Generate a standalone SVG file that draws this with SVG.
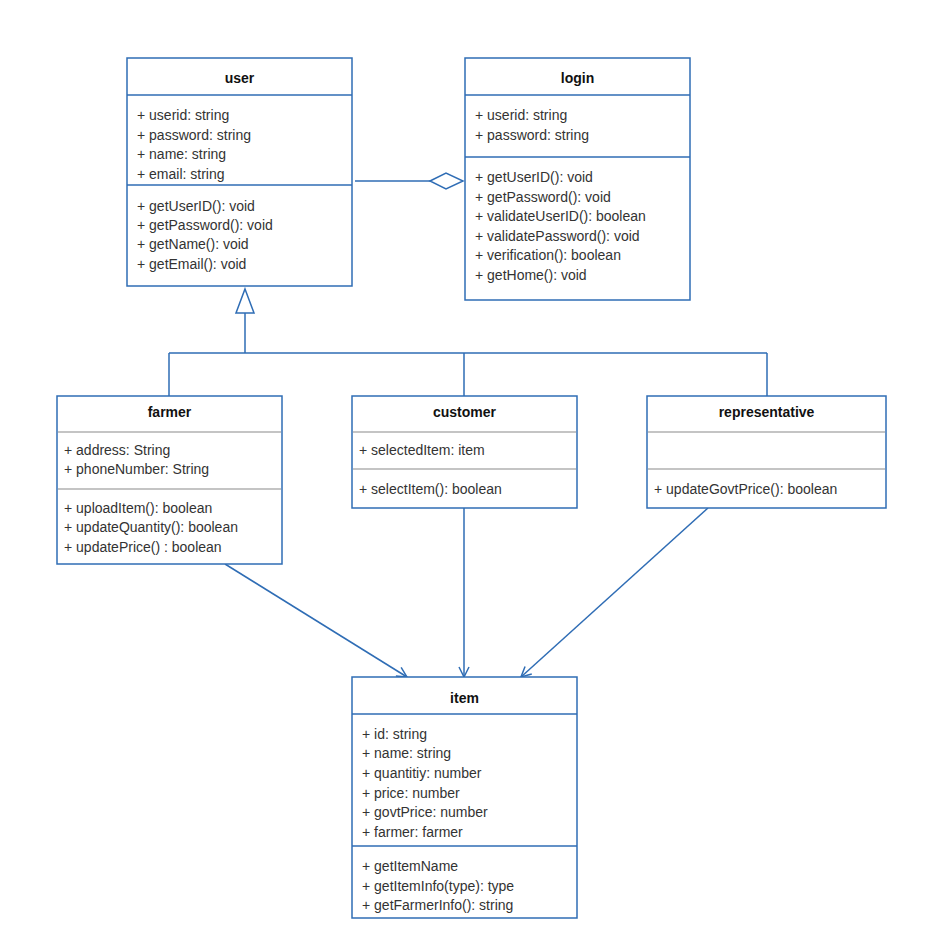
<svg xmlns="http://www.w3.org/2000/svg" width="932" height="951" viewBox="0 0 932 951">
<style>
.box{fill:#fff;stroke:#2f6db5;stroke-width:1.5}
.div{stroke:#2f6db5;stroke-width:1.5}
.gdiv{stroke:#c4c4c4;stroke-width:2}
.t{font-family:"Liberation Sans",Arial,sans-serif;font-size:14px;fill:#333}
.h{font-family:"Liberation Sans",Arial,sans-serif;font-size:14px;font-weight:bold;fill:#111;text-anchor:middle}
.c{fill:none;stroke:#2f6db5;stroke-width:1.5}
</style>
<defs>
<marker id="open" viewBox="0 0 12 12" refX="11" refY="6" markerWidth="12" markerHeight="12" markerUnits="userSpaceOnUse" orient="auto"><path d="M1,1 L11,6 L1,11" fill="none" stroke="#2f6db5" stroke-width="1.5"/></marker>
</defs>
<rect width="932" height="951" fill="#fff"/>
<g id="connectors">
<path class="c" d="M355,181 H430"/>
<path class="c" d="M430,181 L446,173 L463,181 L446,189 Z" fill="#fff"/>
<path class="c" d="M245,313 V353 M169,353 H767 M169,353 V396 M464,353 V396 M767,353 V396"/>
<path class="c" d="M245,289 L254,313 L236,313 Z" fill="#fff"/>
<path class="c" d="M225,564 L407,677" marker-end="url(#open)"/>
<path class="c" d="M464,508 V677" marker-end="url(#open)"/>
<path class="c" d="M708,508 L521,677" marker-end="url(#open)"/>
</g>
<g id="user">
<rect class="box" x="127" y="58" width="225" height="228"/>
<line class="div" x1="127" y1="95" x2="352" y2="95"/>
<line class="div" x1="127" y1="185" x2="352" y2="185"/>
<text class="h" x="239.5" y="83">user</text>
<text class="t" x="137" y="120">+ userid: string</text>
<text class="t" x="137" y="140">+ password: string</text>
<text class="t" x="137" y="159">+ name: string</text>
<text class="t" x="137" y="179">+ email: string</text>
<text class="t" x="137" y="211">+ getUserID(): void</text>
<text class="t" x="137" y="230">+ getPassword(): void</text>
<text class="t" x="137" y="249">+ getName(): void</text>
<text class="t" x="137" y="269">+ getEmail(): void</text>
</g>
<g id="login">
<rect class="box" x="465" y="58" width="225" height="242"/>
<line class="div" x1="465" y1="95" x2="690" y2="95"/>
<line class="div" x1="465" y1="157" x2="690" y2="157"/>
<text class="h" x="577.5" y="83">login</text>
<text class="t" x="475" y="120">+ userid: string</text>
<text class="t" x="475" y="140">+ password: string</text>
<text class="t" x="475" y="182">+ getUserID(): void</text>
<text class="t" x="475" y="202">+ getPassword(): void</text>
<text class="t" x="475" y="221">+ validateUserID(): boolean</text>
<text class="t" x="475" y="241">+ validatePassword(): void</text>
<text class="t" x="475" y="260">+ verification(): boolean</text>
<text class="t" x="475" y="280">+ getHome(): void</text>
</g>
<g id="farmer">
<rect class="box" x="57" y="396" width="225" height="168"/>
<line class="gdiv" x1="58" y1="432" x2="281" y2="432"/>
<line class="gdiv" x1="58" y1="489" x2="281" y2="489"/>
<text class="h" x="169.5" y="417">farmer</text>
<text class="t" x="64" y="455">+ address: String</text>
<text class="t" x="64" y="474">+ phoneNumber: String</text>
<text class="t" x="64" y="513">+ uploadItem(): boolean</text>
<text class="t" x="64" y="532">+ updateQuantity(): boolean</text>
<text class="t" x="64" y="552">+ updatePrice() : boolean</text>
</g>
<g id="customer">
<rect class="box" x="352" y="396" width="225" height="112"/>
<line class="gdiv" x1="353" y1="432" x2="576" y2="432"/>
<line class="gdiv" x1="353" y1="469" x2="576" y2="469"/>
<text class="h" x="464.5" y="417">customer</text>
<text class="t" x="359" y="455">+ selectedItem: item</text>
<text class="t" x="359" y="494">+ selectItem(): boolean</text>
</g>
<g id="representative">
<rect class="box" x="647" y="396" width="239" height="112"/>
<line class="gdiv" x1="648" y1="432" x2="885" y2="432"/>
<line class="gdiv" x1="648" y1="469" x2="885" y2="469"/>
<text class="h" x="766.5" y="417">representative</text>
<text class="t" x="654" y="494">+ updateGovtPrice(): boolean</text>
</g>
<g id="item">
<rect class="box" x="352" y="677" width="225" height="241"/>
<line class="div" x1="352" y1="714" x2="577" y2="714"/>
<line class="div" x1="352" y1="846" x2="577" y2="846"/>
<text class="h" x="464.5" y="703">item</text>
<text class="t" x="362" y="739">+ id: string</text>
<text class="t" x="362" y="758">+ name: string</text>
<text class="t" x="362" y="778">+ quantitiy: number</text>
<text class="t" x="362" y="798">+ price: number</text>
<text class="t" x="362" y="817">+ govtPrice: number</text>
<text class="t" x="362" y="837">+ farmer: farmer</text>
<text class="t" x="362" y="871">+ getItemName</text>
<text class="t" x="362" y="891">+ getItemInfo(type): type</text>
<text class="t" x="362" y="910">+ getFarmerInfo(): string</text>
</g>
</svg>
